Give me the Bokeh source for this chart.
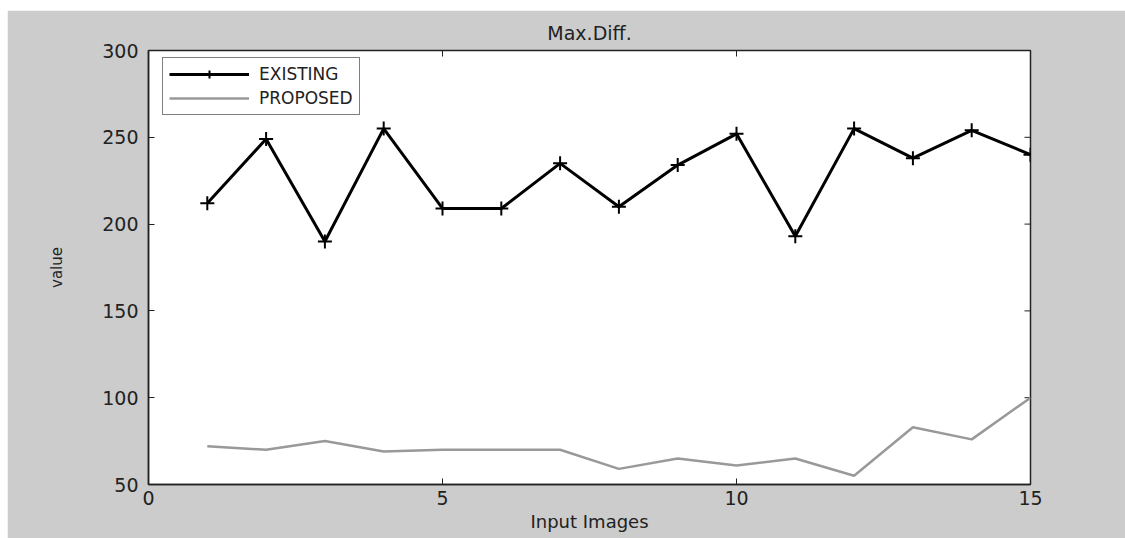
from bokeh.plotting import figure
from bokeh.models import Range1d, Legend, LegendItem, FixedTicker
from bokeh.embed import file_html
from bokeh.resources import INLINE

images = [1, 2, 3, 4, 5, 6, 7, 8, 9, 10, 11, 12, 13, 14, 15]
existing = [212, 249, 190, 255, 209, 209, 235, 210, 234, 252, 193, 255, 238, 254, 240]
proposed = [72, 70, 75, 69, 70, 70, 70, 59, 65, 61, 65, 55, 83, 76, 100]
x_ticks = [0, 5, 10, 15]
y_ticks = [50, 100, 150, 200, 250, 300]

FONT = "DejaVu Sans"
X0, X1, Y0, Y1 = 0, 15, 50, 300

p = figure(width=1118, height=528, output_backend="svg", toolbar_location=None,
           x_range=Range1d(X0, X1), y_range=Range1d(Y0, Y1),
           title="Max.Diff.", x_axis_label="Input Images", y_axis_label="value",
           min_border_left=141, min_border_right=95, min_border_top=40, min_border_bottom=54)
p.margin = (10, 0, 0, 7)

p.background_fill_color = "white"
p.border_fill_color = "#cccccc"
p.outline_line_color = "#222222"
p.outline_line_width = 1.5
p.grid.visible = False

p.title.align = "center"
p.title.text_font = FONT
p.title.text_font_size = "19px"
p.title.text_font_style = "normal"
p.title.text_color = "#222222"
p.title.offset = 0
p.title.standoff = 13

for ax in (p.xaxis[0], p.yaxis[0]):
    ax.major_label_text_font = FONT
    ax.major_label_text_font_size = "19px"
    ax.major_label_text_color = "#222222"
    ax.axis_label_text_font = FONT
    ax.axis_label_text_font_style = "normal"
    ax.axis_label_text_color = "#222222"
    ax.axis_line_color = "#222222"
    ax.axis_line_width = 1.5
    ax.major_tick_in = 6
    ax.major_tick_out = 0
    ax.minor_tick_line_color = None
    ax.major_tick_line_color = "#222222"

p.xaxis[0].ticker = FixedTicker(ticks=x_ticks)
p.yaxis[0].ticker = FixedTicker(ticks=y_ticks)
p.xaxis[0].major_label_standoff = 6
p.yaxis[0].major_label_standoff = 10
p.xaxis[0].axis_label_text_font_size = "18px"
p.yaxis[0].axis_label_text_font_size = "15px"
p.xaxis[0].axis_label_standoff = 3
p.yaxis[0].axis_label_standoff = 33

# mirrored inward ticks on the right and top edges (box on)
frame_w, frame_h = 1118 - 141 - 95, 528 - 40 - 54
tick_dx = 6 * (X1 - X0) / frame_w
tick_dy = 6 * (Y1 - Y0) / frame_h
p.segment(x0=[X1] * len(y_ticks), y0=y_ticks, x1=[X1 - tick_dx] * len(y_ticks), y1=y_ticks,
          line_color="#222222", line_width=1)
p.segment(x0=x_ticks, y0=[Y1] * len(x_ticks), x1=x_ticks, y1=[Y1 - tick_dy] * len(x_ticks),
          line_color="#222222", line_width=1)

r_ex = p.line(images, existing, line_color="black", line_width=3)
r_ex_m = p.scatter(images, existing, marker="cross", size=14, line_color="black", line_width=2)
r_pr = p.line(images, proposed, line_color="#999999", line_width=2.5)

legend = Legend(items=[LegendItem(label="EXISTING", renderers=[r_ex, r_ex_m]),
                       LegendItem(label="PROPOSED", renderers=[r_pr])],
                location=(14, frame_h - 9 - 56))
legend.glyph_width = 80
legend.glyph_height = 20
legend.label_text_font = FONT
legend.label_text_font_size = "17px"
legend.label_text_color = "#222222"
legend.label_height = 20
legend.label_standoff = 10
legend.spacing = 4
legend.padding = 6
legend.margin = 0
legend.border_line_color = "black"
legend.border_line_width = 1.5
legend.background_fill_color = "white"
legend.background_fill_alpha = 1
p.add_layout(legend)

open("out.html", "w").write(file_html(p, INLINE))
